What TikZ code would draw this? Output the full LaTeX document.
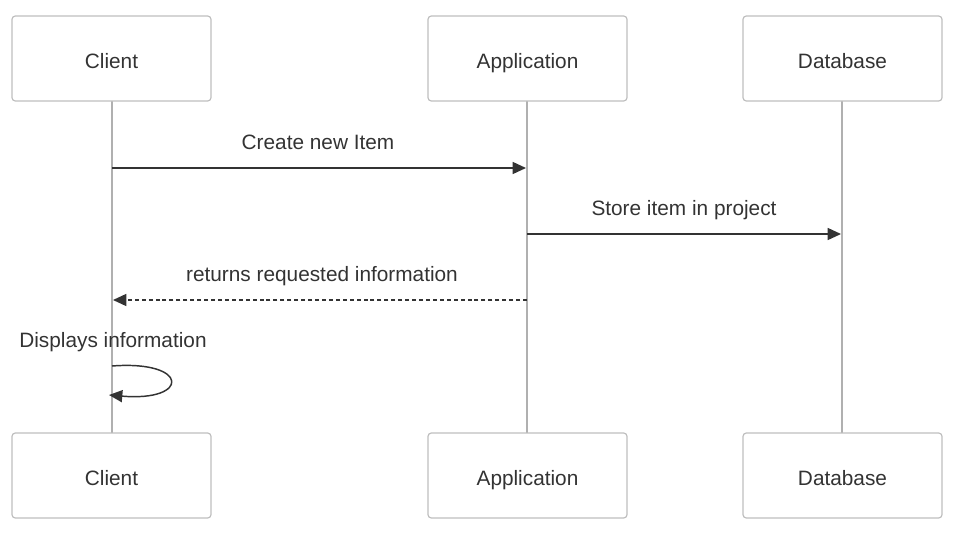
\documentclass[tikz,border=0pt]{standalone}
\usepackage{fontspec}
\setmainfont{Liberation Sans}
\usetikzlibrary{arrows.meta}
\definecolor{txt}{HTML}{333333}
\definecolor{boxline}{HTML}{BFBFBF}
\definecolor{lifeline}{HTML}{B0B0B0}
\begin{document}
\begin{tikzpicture}[x=0.75pt,y=-0.75pt,
  actor/.style={draw=boxline,line width=0.9pt,rounded corners=2.5pt,fill=white,minimum width=199*0.75pt,minimum height=85*0.75pt,inner sep=0pt,font=\fontsize{15.6}{18}\selectfont,text=txt,text height=17.2pt,text depth=1.9pt},
  life/.style={draw=lifeline,line width=1.5pt},
  msg/.style={draw=txt,line width=1.1pt,-{Triangle[length=10pt,width=9pt]}},
  lbl/.style={font=\fontsize{15.6}{18}\selectfont,text=txt,inner sep=0pt,text height=0.72em,text depth=0.12em}]
\useasboundingbox (0,0) rectangle (953,532);
% lifelines
\draw[life] (112,101) -- (112,433);
\draw[life] (527,101) -- (527,433);
\draw[life] (842,101) -- (842,433);
% actors
\node[actor] (c1) at (111.5,58.5) {Client};
\node[actor] (a1) at (527.5,58.5) {Application};
\node[actor] (d1) at (842.5,58.5) {Database};
\node[actor] (c2) at (111.5,475.5) {Client};
\node[actor] (a2) at (527.5,475.5) {Application};
\node[actor] (d2) at (842.5,475.5) {Database};
% message endpoints
\coordinate (m1s) at (112,168); \coordinate (m1e) at (526,168);
\coordinate (m2s) at (527,234); \coordinate (m2e) at (841,234);
\coordinate (m3s) at (527,300); \coordinate (m3e) at (113,300);
\coordinate (m4s) at (112,366); \coordinate (m4e) at (109,395);
\draw[msg] (m1s) -- (m1e);
\node[lbl] (l1) at (318,145) {Create new Item};
\draw[msg] (m2s) -- (m2e);
\node[lbl] (l2) at (684,211) {Store item in project};
\draw[msg,dash pattern=on 3pt off 2.2pt] (m3s) -- (m3e);
\node[lbl] (l3) at (322,277) {returns requested information};
\draw[msg] (m4s) .. controls (190,360) and (190,402) .. (m4e);
\node[lbl] (l4) at (113,343) {Displays information};
\end{tikzpicture}
\end{document}
